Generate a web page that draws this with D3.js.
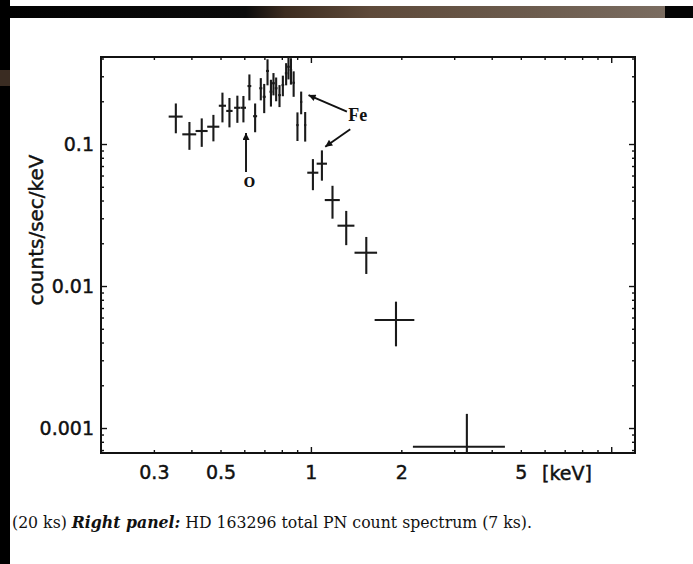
<!DOCTYPE html>
<html>
<head>
<meta charset="utf-8">
<script src="https://cdn.jsdelivr.net/npm/d3@7"></script>
<style>
  html, body { margin: 0; padding: 0; background: #fff; }
  svg { display: block; }
</style>
</head>
<body>
<svg id="chart" width="693" height="564"></svg>
<script>
// ---------------- data ----------------
const energy = [0.355, 0.394, 0.433, 0.4735, 0.5075, 0.5355, 0.569, 0.596, 0.624, 0.652,
                0.681, 0.699, 0.717, 0.736, 0.7505, 0.766, 0.786, 0.8065, 0.827, 0.842,
                0.858, 0.876, 0.902, 0.928, 0.957, 1.0155, 1.088, 1.18, 1.311, 1.529,
                1.92, 3.306];
const energyErr = [0.019, 0.021, 0.02, 0.022, 0.014, 0.013, 0.014, 0.012, 0.009, 0.01,
                   0.008, 0.008, 0.008, 0.008, 0.008, 0.008, 0.008, 0.008, 0.008, 0.008,
                   0.008, 0.008, 0.008, 0.008, 0.008, 0.043, 0.043, 0.068, 0.085, 0.132,
                   0.29, 1.12];
const counts = [0.156, 0.117, 0.1235, 0.1324, 0.186, 0.171, 0.180, 0.180, 0.256, 0.157,
                0.247, 0.215, 0.327, 0.2335, 0.268, 0.247, 0.221, 0.26, 0.315, 0.35,
                0.332, 0.27, 0.136, 0.198, 0.136, 0.0628, 0.0727, 0.0403, 0.0266, 0.01716,
                0.00576, 0.000738];
const countsErr = [0.037, 0.026, 0.028, 0.028, 0.044, 0.04, 0.039, 0.038, 0.053, 0.036,
                   0.044, 0.05, 0.068, 0.05, 0.048, 0.047, 0.039, 0.043, 0.056, 0.065,
                   0.07, 0.055, 0.031, 0.036, 0.032, 0.0155, 0.0175, 0.0105, 0.0072, 0.005,
                   0.002, 0.00052];

const xLabelValues = [0.3, 0.5, 1, 2, 5];
const xLabelTexts  = ["0.3", "0.5", "1", "2", "5"];
const xMajor = [1, 10];
const xMinor = [0.2, 0.3, 0.4, 0.5, 0.6, 0.7, 0.8, 0.9, 2, 3, 4, 5, 6, 7, 8, 9];
const yLabelValues = [0.001, 0.01, 0.1];
const yLabelTexts  = ["0.001", "0.01", "0.1"];
const yMajor = [0.001, 0.01, 0.1];
const yMinor = [0.0007, 0.0008, 0.0009, 0.002, 0.003, 0.004, 0.005, 0.006, 0.007, 0.008, 0.009,
                0.02, 0.03, 0.04, 0.05, 0.06, 0.07, 0.08, 0.09, 0.2, 0.3, 0.4];

const xUnitLabel = "[keV]";
const yAxisTitle = "counts/sec/keV";

// annotations: [from energy, from value, to energy, to value]
const arrowO   = [0.608, 0.0635, 0.608, 0.1195];
const arrowFe1 = [1.318, 0.169, 0.982, 0.221];
const arrowFe2 = [1.352, 0.1269, 1.116, 0.0957];
const labelO   = ["O", 0.597, 0.0495];
const labelFe  = ["Fe", 1.331, 0.16];

const captionParts = ["(20 ks) ", "Right panel:", " HD 163296 total PN count spectrum (7 ks)."];

// ---------------- layout ----------------
const L = 101, R = 635, T = 57, B = 453;
const svg = d3.select("#chart");

// decorative scan borders
const defs = svg.append("defs");
const grad = defs.append("linearGradient").attr("id", "band").attr("x1", "0").attr("x2", "1");
[[0, "#020202"], [0.36, "#0c0c0c"], [0.42, "#3c2c20"], [0.55, "#5e4a3a"], [0.8, "#6c5c4e"], [1, "#7a6c60"]]
  .forEach(([o, c]) => grad.append("stop").attr("offset", o).attr("stop-color", c));
svg.append("rect").attr("x", 0).attr("y", 0).attr("width", 693).attr("height", 564).attr("fill", "#fff");
svg.append("rect").attr("x", 10).attr("y", 6).attr("width", 655).attr("height", 12).attr("fill", "url(#band)");
svg.append("rect").attr("x", 665).attr("y", 6).attr("width", 28).attr("height", 12).attr("fill", "#050505");
svg.append("rect").attr("x", 0).attr("y", 0).attr("width", 10).attr("height", 564).attr("fill", "#000");
svg.append("rect").attr("x", 0).attr("y", 70).attr("width", 10).attr("height", 16).attr("fill", "#3a2c22");

// scales
const x = d3.scaleLog().domain([0.2, 12]).range([L, R]);
const y = d3.scaleLog().domain([0.000667, 0.41]).range([B, T]);

const font = "'DejaVu Sans', sans-serif";

function styleAxis(g) {
  g.selectAll("path.domain").remove();
  g.selectAll("line").attr("stroke", "#111").attr("stroke-width", 1.4);
}
function styleText(sel, size) {
  sel.attr("font-family", font).attr("font-size", size).attr("fill", "#111")
     .attr("stroke", "#111").attr("stroke-width", 0.45);
}

// bottom
svg.append("g").attr("transform", `translate(0,${B})`)
  .call(d3.axisBottom(x).tickValues(xMinor).tickSize(-3).tickFormat("")).call(styleAxis);
svg.append("g").attr("transform", `translate(0,${B})`)
  .call(d3.axisBottom(x).tickValues(xMajor).tickSize(-6).tickFormat("")).call(styleAxis);
const xl = svg.append("g").attr("transform", `translate(0,${B})`)
  .call(d3.axisBottom(x).tickValues(xLabelValues).tickSize(0).tickPadding(13)
        .tickFormat((d, i) => xLabelTexts[i]));
xl.selectAll("path.domain").remove();
styleText(xl.selectAll("text"), 19);
// top
svg.append("g").attr("transform", `translate(0,${T})`)
  .call(d3.axisTop(x).tickValues(xMinor).tickSize(-3).tickFormat("")).call(styleAxis);
svg.append("g").attr("transform", `translate(0,${T})`)
  .call(d3.axisTop(x).tickValues(xMajor).tickSize(-6).tickFormat("")).call(styleAxis);
// left
svg.append("g").attr("transform", `translate(${L},0)`)
  .call(d3.axisLeft(y).tickValues(yMinor).tickSize(-3).tickFormat("")).call(styleAxis);
svg.append("g").attr("transform", `translate(${L},0)`)
  .call(d3.axisLeft(y).tickValues(yMajor).tickSize(-6).tickFormat("")).call(styleAxis);
const yl = svg.append("g").attr("transform", `translate(${L},0)`)
  .call(d3.axisLeft(y).tickValues(yLabelValues).tickSize(0).tickPadding(7)
        .tickFormat((d, i) => yLabelTexts[i]));
yl.selectAll("path.domain").remove();
styleText(yl.selectAll("text"), 19);
// right
svg.append("g").attr("transform", `translate(${R},0)`)
  .call(d3.axisRight(y).tickValues(yMinor).tickSize(-3).tickFormat("")).call(styleAxis);
svg.append("g").attr("transform", `translate(${R},0)`)
  .call(d3.axisRight(y).tickValues(yMajor).tickSize(-6).tickFormat("")).call(styleAxis);

// frame
svg.append("rect").attr("x", L).attr("y", T).attr("width", R - L).attr("height", B - T)
  .attr("fill", "none").attr("stroke", "#111").attr("stroke-width", 2);

// unit label and axis title
styleText(svg.append("text").attr("x", 542).attr("y", 480).text(xUnitLabel), 19);
styleText(svg.append("text").attr("transform", "translate(43,230) rotate(-90)")
  .attr("text-anchor", "middle").text(yAxisTitle), 20);

// data crosses
defs.append("clipPath").attr("id", "plot").append("rect")
  .attr("x", L).attr("y", T).attr("width", R - L).attr("height", B - T);
const pts = energy.map((e, i) => ({ e, de: energyErr[i], v: counts[i], dv: countsErr[i] }));
const gData = svg.append("g").attr("clip-path", "url(#plot)");
const cross = gData.selectAll("g.pt").data(pts).join("g").attr("class", "pt");
cross.append("line")
  .attr("x1", d => x(d.e)).attr("x2", d => x(d.e))
  .attr("y1", d => y(d.v + d.dv)).attr("y2", d => y(Math.max(d.v - d.dv, 1e-5)))
  .attr("stroke", "#1a1a1a").attr("stroke-width", 2.1);
cross.append("line")
  .attr("x1", d => x(d.e - d.de)).attr("x2", d => x(d.e + d.de))
  .attr("y1", d => y(d.v)).attr("y2", d => y(d.v))
  .attr("stroke", "#1a1a1a").attr("stroke-width", 2.1);

// arrows
defs.append("marker").attr("id", "head").attr("viewBox", "0 0 10 10")
  .attr("refX", 10).attr("refY", 5).attr("markerWidth", 11).attr("markerHeight", 7)
  .attr("markerUnits", "userSpaceOnUse").attr("orient", "auto")
  .append("path").attr("d", "M0,0 L10,5 L0,10 Z").attr("fill", "#111");
[arrowO, arrowFe1, arrowFe2].forEach(a => {
  svg.append("line")
    .attr("x1", x(a[0])).attr("y1", y(a[1])).attr("x2", x(a[2])).attr("y2", y(a[3]))
    .attr("stroke", "#111").attr("stroke-width", 1.9).attr("marker-end", "url(#head)");
});
svg.append("text").attr("x", x(labelO[1])).attr("y", y(labelO[2]))
  .attr("font-family", "'DejaVu Serif', serif").attr("font-weight", "bold").attr("font-size", 13)
  .attr("fill", "#111").text(labelO[0]);
svg.append("text").attr("x", x(labelFe[1])).attr("y", y(labelFe[2]) + 6)
  .attr("font-family", "'Liberation Serif', serif").attr("font-weight", "bold").attr("font-size", 18)
  .attr("fill", "#111").text(labelFe[0]);

// caption
const cap = svg.append("text").attr("x", 12).attr("y", 528)
  .attr("font-family", "'DejaVu Serif', serif").attr("font-size", 16).attr("fill", "#111")
  .attr("textLength", 520).attr("lengthAdjust", "spacingAndGlyphs");
cap.append("tspan").text(captionParts[0]);
cap.append("tspan").attr("font-style", "italic").attr("font-weight", "bold").text(captionParts[1]);
cap.append("tspan").text(captionParts[2]);
</script>
</body>
</html>
